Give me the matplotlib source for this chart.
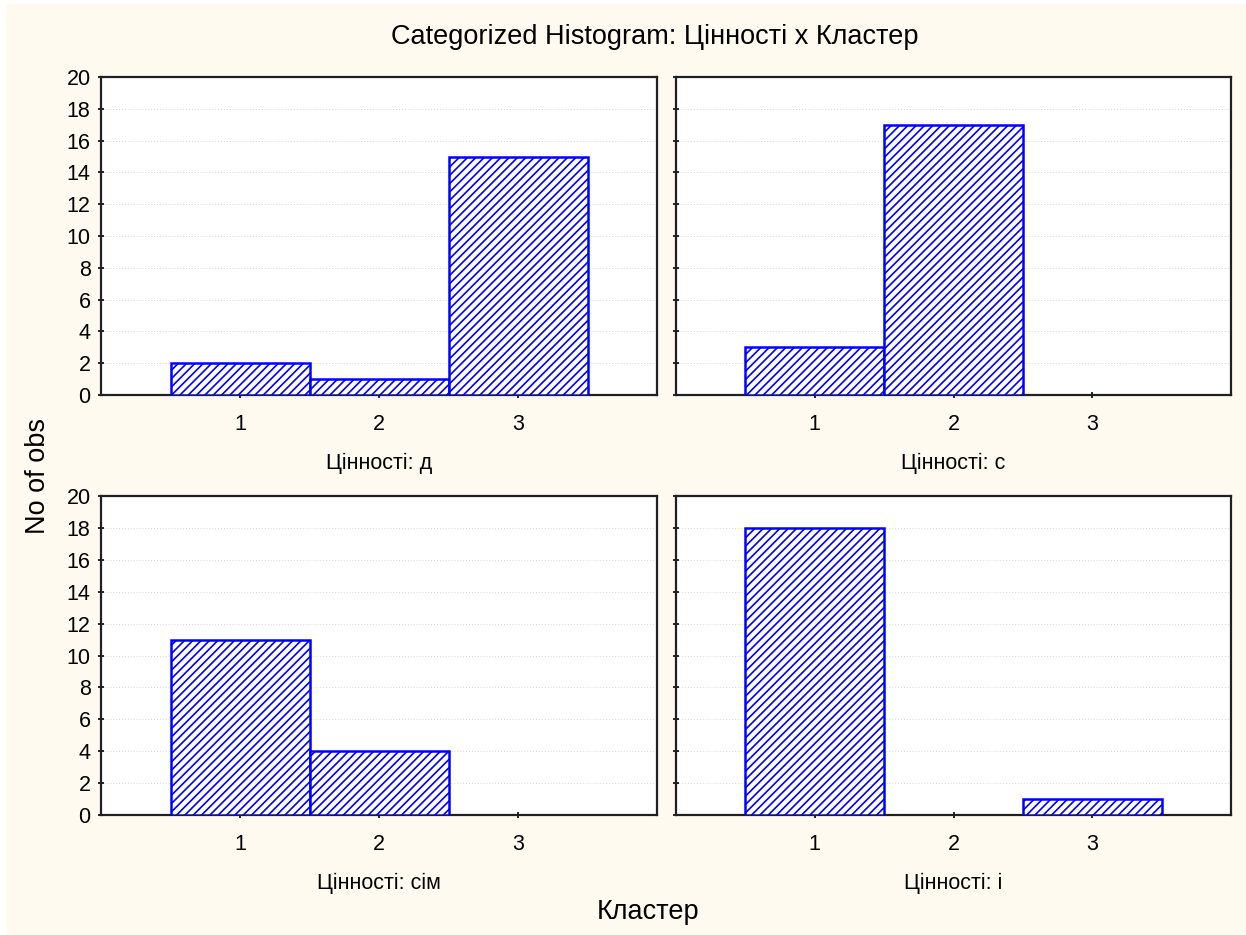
import matplotlib
matplotlib.use("Agg")
import matplotlib.pyplot as plt
from matplotlib.patches import Rectangle

plt.rcParams['font.family'] = ['Liberation Sans', 'DejaVu Sans']
plt.rcParams['hatch.linewidth'] = 1.2
plt.rcParams['hatch.color'] = '#0000ff'

clusters = [1, 2, 3]
panel_labels = ["Цінності: д", "Цінності: с", "Цінності: сім", "Цінності: і"]
counts = [
    [2, 1, 15],
    [3, 17, 0],
    [11, 4, 0],
    [18, 0, 1],
]
yticks = list(range(0, 21, 2))

W, H = 1246, 935
fig = plt.figure(figsize=(W / 100, H / 100), dpi=100, facecolor='white')
fig.patches.append(Rectangle((6 / W, 0), 1 - 6 / W, 1 - 4 / H, transform=fig.transFigure,
                             facecolor='#fffaf0', edgecolor='none', zorder=-10))

# axes boxes in pixels: (left, top, right, bottom)
boxes = [(101, 77, 657, 395), (676, 77, 1231, 395),
         (101, 496, 657, 815), (676, 496, 1231, 815)]

for i, (l, t, r, b) in enumerate(boxes):
    ax = fig.add_axes([l / W, 1 - b / H, (r - l) / W, (b - t) / H])
    ax.set_facecolor('white')
    vals = counts[i]
    bars = ax.bar(clusters, vals, width=1.0, facecolor='white', edgecolor='#0000ff',
                  linewidth=1.8, hatch='////', zorder=3)
    for bar, v in zip(bars, vals):
        if v == 0:
            bar.set_visible(False)
    ax.set_xlim(0, 4)
    ax.set_ylim(0, 20)
    ax.set_xticks(clusters)
    ax.set_yticks(yticks)
    ax.yaxis.grid(True, linestyle=(0, (1, 2)), color='#d4d4d4', linewidth=0.7, zorder=0)
    ax.tick_params(axis='both', direction='inout', length=5, width=1.2, labelsize=15.5,
                   colors='black', pad=5)
    ax.tick_params(axis='x', pad=11)
    if i % 2 == 1:
        ax.tick_params(axis='y', labelleft=False)
    for s in ax.spines.values():
        s.set_linewidth(1.6)
        s.set_color('#202020')
    ax.set_xlabel(panel_labels[i], fontsize=15.5, labelpad=13)

fig.text(655 / W, 1 - 37 / H, "Categorized Histogram: Цінності x Кластер",
         ha='center', va='center', fontsize=19.5)
fig.text(38 / W, 1 - 476 / H, "No of obs", ha='center', va='center',
         rotation=90, fontsize=19.5)
fig.text(648 / W, 1 - 912 / H, "Кластер", ha='center', va='center', fontsize=19.5)

fig.savefig("out.png", dpi=100, facecolor=fig.get_facecolor())
